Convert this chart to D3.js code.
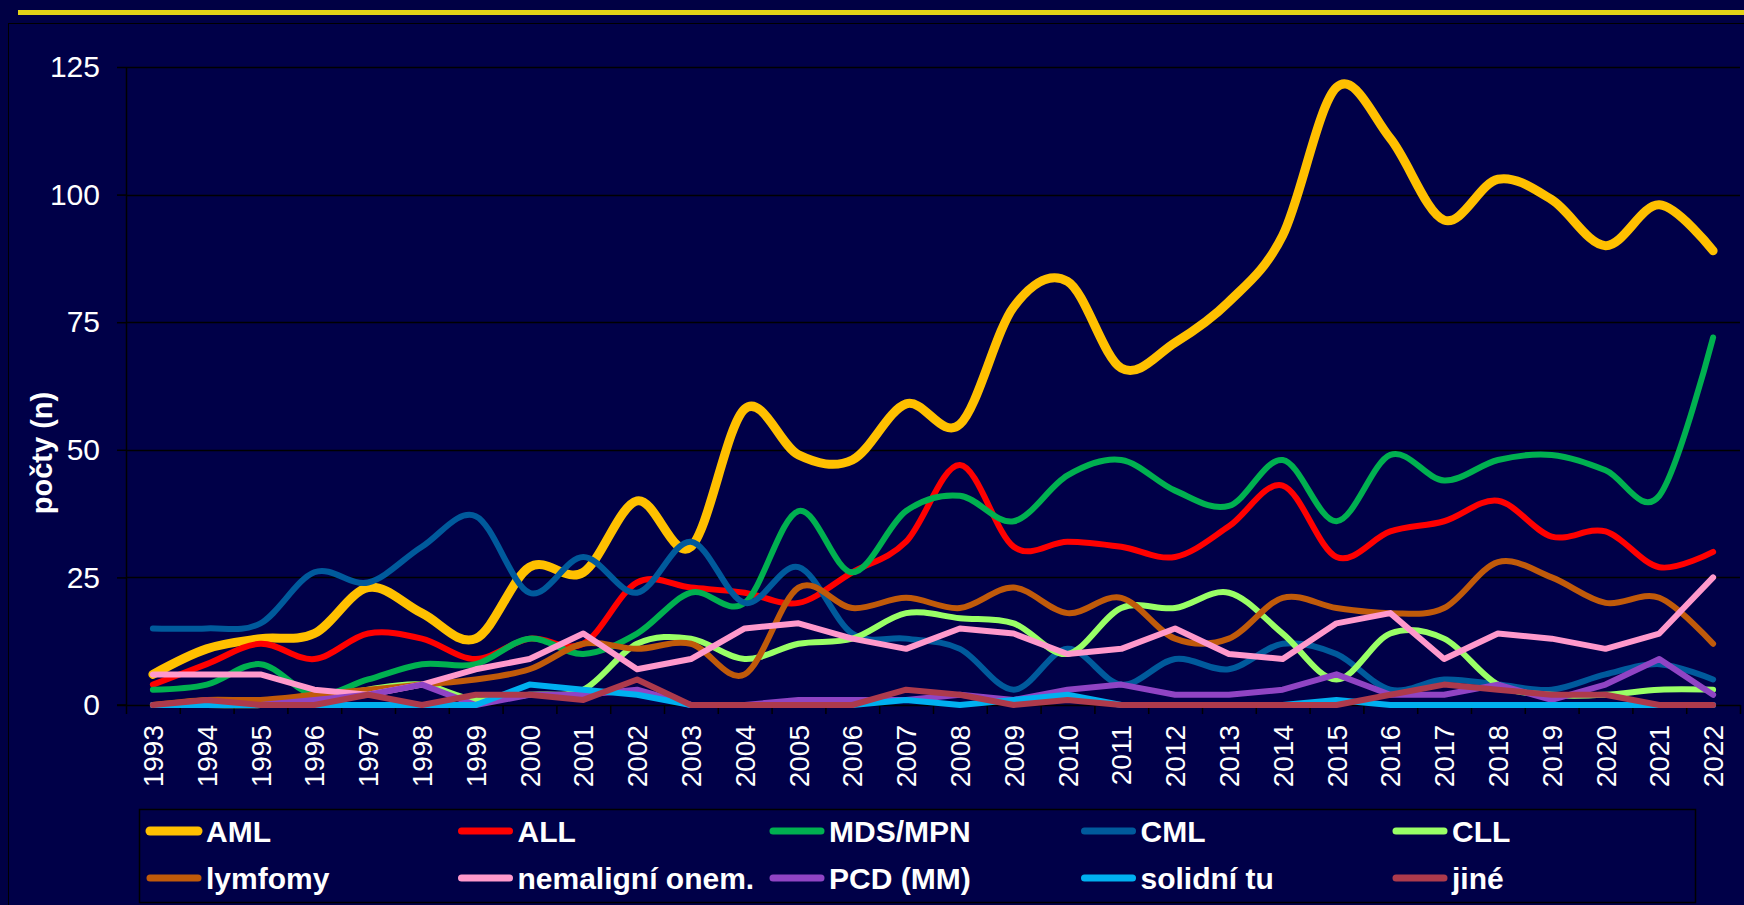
<!DOCTYPE html>
<html><head><meta charset="utf-8">
<script src="https://cdn.jsdelivr.net/npm/d3@7"></script>
<style>
html,body{margin:0;padding:0;background:#000044;}
svg{display:block;}
text{font-family:"Liberation Sans",Arial,Helvetica,sans-serif;}
</style></head><body>
<svg id="chart" width="1744" height="905"></svg>
<script>
const years = ["1993","1994","1995","1996","1997","1998","1999","2000","2001","2002","2003","2004","2005","2006","2007","2008","2009","2010","2011","2012","2013","2014","2015","2016","2017","2018","2019","2020","2021","2022"];
const yTicks = [0,25,50,75,100,125];
const seriesNames = ["AML","ALL","MDS/MPN","CML","CLL","lymfomy","nemaligní onem.","PCD (MM)","solidní tu","jiné"];
const seriesColors = ["#FFC000","#FF0000","#00B050","#005A9C","#99FF66","#C05A0A","#FF99CC","#9044C4","#00B0F0","#AD3A4C"];
const seriesSmooth = [true,true,true,true,true,true,false,false,false,false];
const AML     = [6,11,13,14,23,18,13,27,26,40,31,58,49,48,59,55,78,83,66,71,79,92,121,111,95,103,99,90,98,89];
const ALL     = [4,8,12,9,14,13,9,13,12,24,23,22,20,26,32,47,31,32,31,29,35,43,29,34,36,40,33,34,27,30];
const MDS     = [3,4,8,2,5,8,8,13,10,14,22,20,38,26,38,41,36,45,48,42,39,48,36,49,44,48,49,46,41,72];
const CML     = [15,15,16,26,24,31,37,22,29,22,32,20,27,14,13,11,3,11,4,9,7,12,10,3,5,4,3,6,8,5];
const CLL     = [0,0,0,1,3,4,1,2,3,12,13,9,12,13,18,17,16,10,19,19,22,14,5,14,13,4,2,2,3,3];
const lymfomy = [0,1,1,2,3,4,5,7,12,11,12,6,23,19,21,19,23,18,21,13,13,21,19,18,19,28,25,20,21,12];
const nemalig = [6,6,6,3,2,4,7,9,14,7,9,15,16,13,11,15,14,10,11,15,10,9,16,18,9,14,13,11,14,25];
const PCD     = [0,0,0,1,2,4,0,2,2,3,0,0,1,1,1,2,1,3,4,2,2,3,6,2,2,4,1,4,9,2];
const solid   = [0,0,0,0,0,0,0,4,3,2,0,0,0,0,1,0,1,2,0,0,0,0,1,0,0,0,0,0,0,0];
const jine    = [0,1,0,0,2,0,2,2,1,5,0,0,0,0,3,2,0,1,0,0,0,0,0,2,4,3,2,2,0,0];
const seriesValues = [AML,ALL,MDS,CML,CLL,lymfomy,nemalig,PCD,solid,jine];

const svg = d3.select("#chart");
const plot = {left:126, right:1740, top:67, bottom:705};

// background
svg.append("rect").attr("x",0).attr("y",0).attr("width",1744).attr("height",905).attr("fill","#000044");
svg.append("rect").attr("x",8.5).attr("y",23.5).attr("width",1760).attr("height",900)
  .attr("fill","#000048").attr("stroke","#000000").attr("stroke-width",1);
// top yellow rule
svg.append("rect").attr("x",18).attr("y",10).attr("width",1726).attr("height",5).attr("fill","#E3D317");

const x = d3.scaleBand().domain(years).range([plot.left, plot.right]).padding(0);
const y = d3.scaleLinear().domain([0,125]).range([plot.bottom, plot.top]);
const xIdx = d3.scaleLinear().domain([0, years.length]).range([plot.left, plot.right]);

// gridlines
svg.append("g").selectAll("line").data(yTicks.filter(d=>d>0)).join("line")
  .attr("x1",plot.left).attr("x2",plot.right)
  .attr("y1",d=>Math.round(y(d))+0.5).attr("y2",d=>Math.round(y(d))+0.5)
  .attr("stroke","#000000").attr("stroke-width",1.5);

// y axis
const yAxis = svg.append("g").attr("transform",`translate(${plot.left},0)`)
  .call(d3.axisLeft(y).tickValues(yTicks).tickSize(9).tickPadding(17).tickSizeOuter(0));
yAxis.select(".domain").attr("stroke","#000").attr("stroke-width",1.5);
yAxis.selectAll(".tick line").attr("stroke","#000").attr("stroke-width",1.5);
yAxis.selectAll("text").attr("fill","#FFFFFF").style("font-size","30px");

// x axis: ticks at category boundaries
const xTickAxis = svg.append("g").attr("transform",`translate(0,${plot.bottom})`)
  .call(d3.axisBottom(xIdx).tickValues(d3.range(years.length+1)).tickSize(9).tickFormat("").tickSizeOuter(0));
xTickAxis.select(".domain").attr("stroke","#000").attr("stroke-width",1.5);
xTickAxis.selectAll(".tick line").attr("stroke","#000").attr("stroke-width",1.5);
svg.append("line").attr("x1",117).attr("x2",plot.left).attr("y1",plot.bottom).attr("y2",plot.bottom).attr("stroke","#000").attr("stroke-width",1.5);

const xAxis = svg.append("g").attr("transform",`translate(0,${plot.bottom})`)
  .call(d3.axisBottom(x).tickSize(0));
xAxis.select(".domain").remove();
xAxis.selectAll("text")
  .attr("transform","rotate(-90)")
  .attr("x",-20).attr("y",0).attr("dy","0.36em")
  .style("text-anchor","end")
  .attr("fill","#FFFFFF").style("font-size","28px");

// y title
svg.append("text").attr("transform","translate(42,453) rotate(-90)")
  .attr("text-anchor","middle").attr("dy","0.35em")
  .attr("fill","#FFFFFF").style("font-size","29px").style("font-weight","bold")
  .text("počty (n)");

// lines
seriesValues.forEach((vals,i)=>{
  const line = d3.line()
    .x((d,j)=>x(years[j]) + x.bandwidth()/2)
    .y(d=>y(d))
    .curve(seriesSmooth[i] ? d3.curveCardinal.tension(0) : d3.curveLinear);
  svg.append("path").datum(vals).attr("d",line)
    .attr("fill","none").attr("stroke",seriesColors[i])
    .attr("stroke-width", i===0 ? 9 : 6)
    .attr("stroke-linecap","round").attr("stroke-linejoin","round");
});

// legend
svg.append("rect").attr("x",139.5).attr("y",809.5).attr("width",1556).attr("height",93)
  .attr("fill","none").attr("stroke","#000").attr("stroke-width",1.5);
const legend = svg.append("g");
seriesNames.forEach((name,i)=>{
  const col = i%5, row = Math.floor(i/5);
  const lx = 146 + col*311.5, ly = row===0 ? 831 : 878;
  legend.append("line").attr("x1",lx+4).attr("x2",lx+52).attr("y1",ly).attr("y2",ly)
    .attr("stroke",seriesColors[i]).attr("stroke-width", i===0 ? 9 : 7).attr("stroke-linecap","round");
  legend.append("text").attr("x",lx+60).attr("y",ly).attr("dy","0.36em")
    .attr("fill","#FFFFFF").style("font-size","30px").style("font-weight","bold").text(name);
});
</script>
</body></html>
